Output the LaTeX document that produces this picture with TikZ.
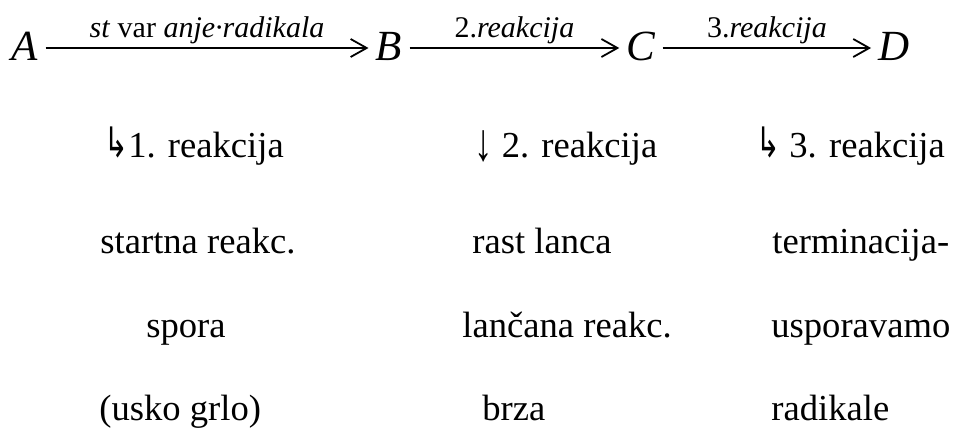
\documentclass[tikz,border=0pt]{standalone}
\usepackage{fontspec}
\setmainfont{Liberation Serif}
\newfontfamily\symfont{DejaVu Sans}
\usetikzlibrary{arrows.meta}
\tikzset{
  species/.style={anchor=base, inner xsep=3.5pt, inner ysep=0pt,
                  text height=12pt, text depth=0pt,
                  font=\fontsize{21.5}{25}\selectfont\itshape},
  steplabel/.style={midway, anchor=base, yshift=5pt, inner sep=0pt,
                    font=\fontsize{15}{18}\selectfont},
  note/.style={anchor=base west, inner sep=0pt,
               font=\fontsize{18.3}{22}\selectfont},
  arrow/.style={-{Straight Barb[length=8pt, width=9pt]}, line width=0.9pt}
}
\newcommand{\hookarr}{{\symfont\fontsize{15}{15}\selectfont\scalebox{0.95}[1.4]{↳}}}
\newcommand{\downarr}{\raisebox{-1.5pt}{\scalebox{1}[1.45]{↓}}}

\begin{document}
\begin{tikzpicture}[x=0.5pt, y=-0.5pt]

  \useasboundingbox (0,0) rectangle (953,428);

  % ── Reaction chain ──
  \node[species] (specA) at (25,60)  {A};
  \node[species] (specB) at (389,60) {B};
  \node[species] (specC) at (641,60) {C};
  \node[species] (specD) at (894,60) {D};

  \draw[arrow] (specA.east) -- (specB.west)
      node[steplabel] {\textit{st} var \textit{anje·radikala}};
  \draw[arrow] (specB.east) -- (specC.west)
      node[steplabel] {2.\textit{reakcija}};
  \draw[arrow] (specC.east) -- (specD.west)
      node[steplabel] {3.\textit{reakcija}};

  % ── Step headers ──
  \node[note] (step1) at (104,157) {\hookarr1. reakcija};
  \node[note] (step2) at (474,157) {\downarr\ 2. reakcija};
  \node[note] (step3) at (756,157) {\hookarr\ 3. reakcija};

  % ── Step notes ──
  \node[note] (start)  at (100,253) {startna reakc.};
  \node[note] (slow)   at (146,337) {spora};
  \node[note] (neck)   at (99,420)  {(usko grlo)};

  \node[note] (growth) at (472,253) {rast lanca};
  \node[note] (chain)  at (462,337) {lančana reakc.};
  \node[note] (fast)   at (482,420) {brza};

  \node[note] (term)   at (772,253) {terminacija-};
  \node[note] (damp)   at (771,337) {usporavamo};
  \node[note] (rad)    at (771,420) {radikale};

\end{tikzpicture}
\end{document}
